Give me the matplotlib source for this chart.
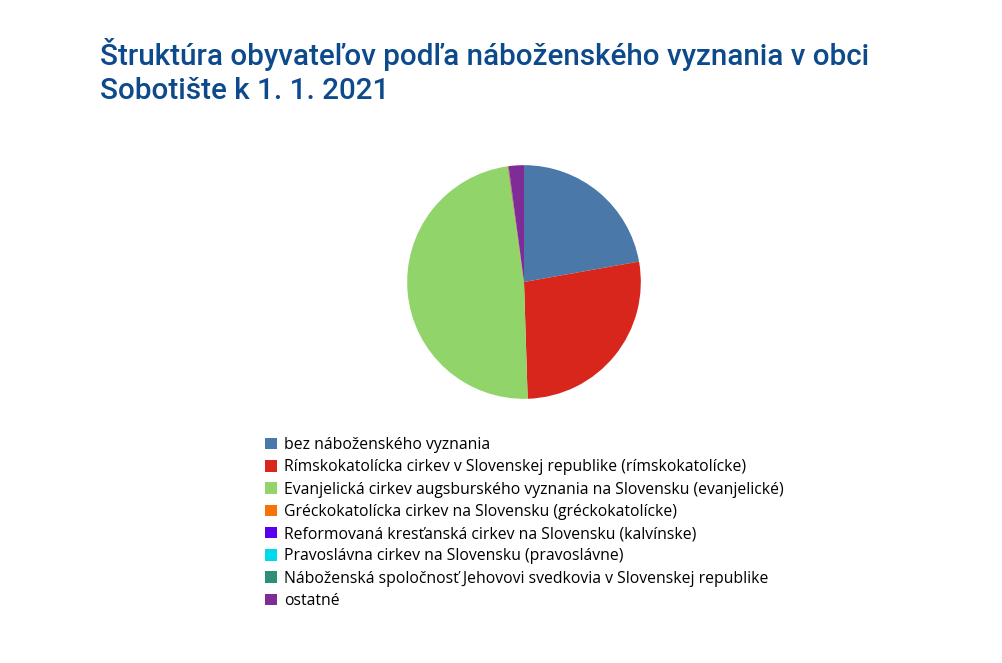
import matplotlib.pyplot as plt
from matplotlib.patches import Patch

# data
labels = [
    "bez náboženského vyznania",
    "Rímskokatolícka cirkev v Slovenskej republike (rímskokatolícke)",
    "Evanjelická cirkev augsburského vyznania na Slovensku (evanjelické)",
    "Gréckokatolícka cirkev na Slovensku (gréckokatolícke)",
    "Reformovaná kresťanská cirkev na Slovensku (kalvínske)",
    "Pravoslávna cirkev na Slovensku (pravoslávne)",
    "Náboženská spoločnosť Jehovovi svedkovia v Slovenskej republike",
    "ostatné",
]
values = [22.2, 27.3, 48.2, 0.1, 0.0, 0.0, 0.1, 2.1]
colors = ["#4a78a8", "#d9261c", "#90d46a", "#f7720a", "#5a00ee",
          "#00d8ec", "#2e8f76", "#7f2c96"]

W, H = 1003, 663
fig = plt.figure(figsize=(W / 100, H / 100), dpi=100)

# title
fig.text(100 / W, 1 - 38 / H, "Štruktúra obyvateľov podľa náboženského vyznania v obci\nSobotište k 1. 1. 2021",
         ha="left", va="top", fontsize=21.3, fontweight="medium", family="Roboto",
         color="#0d4a8c", linespacing=1.27)

# pie
cx, cy, r = 524, 282, 118
ax = fig.add_axes([(cx - r) / W, (H - cy - r) / H, 2 * r / W, 2 * r / H])
ax.pie(values, colors=colors, startangle=90, counterclock=False, radius=1,
       wedgeprops=dict(linewidth=0))
ax.set_xlim(-1.01, 1.01)
ax.set_ylim(-1.01, 1.01)
ax.set_aspect("equal")
ax.axis("off")

# legend
handles = [Patch(facecolor=c, edgecolor="none") for c in colors]
fig.legend(handles, labels, loc="upper left", bbox_to_anchor=(265 / W, 1 - 437 / H),
           frameon=False, prop={"family": "Open Sans", "size": 11.3},
           handlelength=0.77, handleheight=0.77, handletextpad=0.47,
           labelspacing=0.40, borderaxespad=0, borderpad=0)

fig.savefig("out.png", dpi=100, facecolor="white")
